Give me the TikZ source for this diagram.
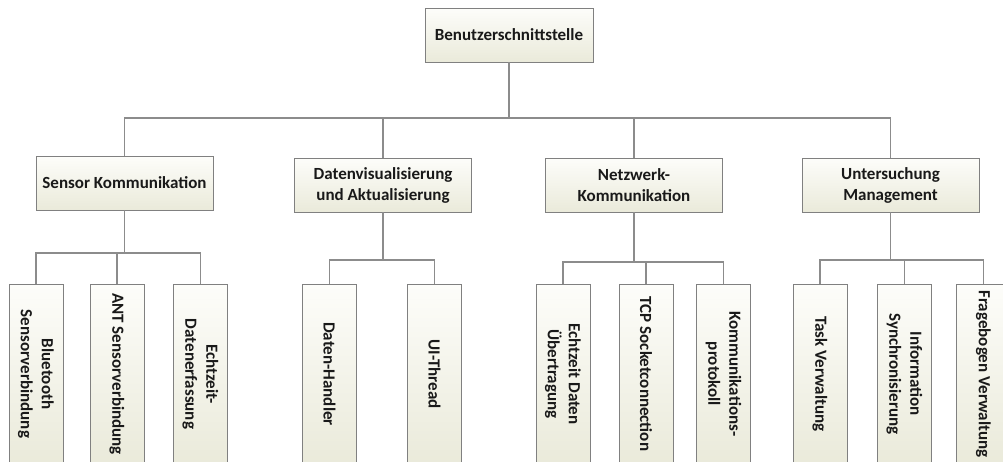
\documentclass[tikz,border=0pt]{standalone}
\usepackage{fontspec}
\setmainfont{Carlito}
\begin{document}
\begin{tikzpicture}[x=1pt,y=-1pt,
  box/.style={draw=boxline, line width=0.9pt, rectangle, inner sep=2pt,
    top color=boxtop, bottom color=boxbot, text=txt, align=center,
    font=\bfseries\fontsize{17}{21}\selectfont},
  headbox/.style={box, minimum width=177pt, minimum height=54pt},
  leafbox/.style={box, rotate=-90, minimum width=180pt, minimum height=54pt},
  conn/.style={draw=connline, line width=1.1pt}]
\definecolor{boxline}{RGB}{128,128,128}
\definecolor{connline}{RGB}{140,140,140}
\definecolor{boxtop}{RGB}{253,253,250}
\definecolor{boxbot}{RGB}{234,234,218}
\definecolor{txt}{RGB}{25,25,25}
\useasboundingbox (0,0) rectangle (1003,461);
\clip (0,0) rectangle (1003,461);

% root
\node[box, minimum width=168pt, minimum height=54pt] (root) at (509,35) {Benutzerschnittstelle};

% second level
\node[headbox] (sk) at (124.5,183) {Sensor Kommunikation};
\node[headbox] (dv) at (383,185) {Datenvisualisierung\\und Aktualisierung};
\node[headbox] (nk) at (634,185) {Netzwerk-\\Kommunikation};
\node[headbox] (um) at (890.5,185) {Untersuchung\\Management};

% leaves
\node[leafbox] (bt)  at (36,374)    {Bluetooth\\Sensorverbindung};
\node[leafbox] (ant) at (117,374)   {ANT Sensorverbindung};
\node[leafbox] (ed)  at (200.5,374) {Echtzeit-\\Datenerfassung};

\node[leafbox] (dh)  at (329.5,374) {Daten-Handler};
\node[leafbox] (ui)  at (434.5,374) {UI-Thread};

\node[leafbox] (eu)  at (563,374)   {Echtzeit Daten\\Übertragung};
\node[leafbox] (tcp) at (646,374)   {TCP Socketconnection};
\node[leafbox] (kp)  at (723.5,374) {Kommunikations-\\protokoll};

\node[leafbox] (tv)  at (820,374)   {Task Verwaltung};
\node[leafbox] (is)  at (904.5,374) {Information\\Synchronisierung};
\node[leafbox] (fv)  at (983.5,374) {Fragebogen Verwaltung};

% bus points
\coordinate (b0) at (509,118);
\coordinate (b1) at (124.5,253);
\coordinate (b2) at (383,260);
\coordinate (b3) at (634,262);
\coordinate (b4) at (890.5,260);

% connectors
\foreach \c in {sk,dv,nk,um}
  \draw[conn] (root.south) -- (b0) -| (\c.north);
\foreach \c in {bt,ant,ed}
  \draw[conn] (sk.south) -- (b1) -| (\c.west);
\foreach \c in {dh,ui}
  \draw[conn] (dv.south) -- (b2) -| (\c.west);
\foreach \c in {eu,tcp,kp}
  \draw[conn] (nk.south) -- (b3) -| (\c.west);
\foreach \c in {tv,is,fv}
  \draw[conn] (um.south) -- (b4) -| (\c.west);
\end{tikzpicture}
\end{document}
